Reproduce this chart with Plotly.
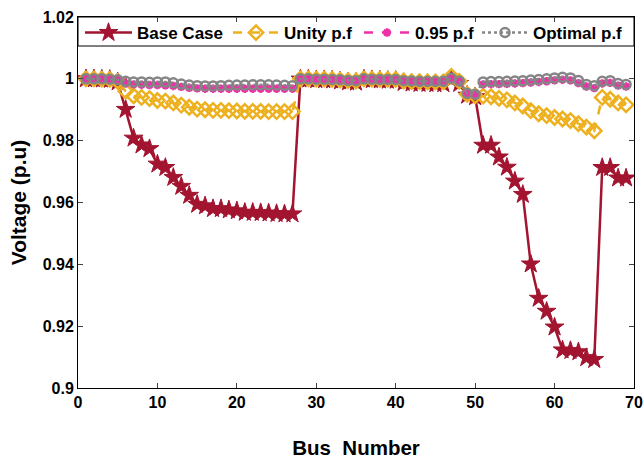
import plotly.graph_objects as go

bus = list(range(1, 70))

base_case = [1.0000, 1.0000, 0.9999, 0.9998, 0.9990, 0.9901, 0.9808, 0.9786, 0.9774, 0.9724,
             0.9713, 0.9681, 0.9652, 0.9623, 0.9594, 0.9589, 0.9580, 0.9580, 0.9576, 0.9573,
             0.9568, 0.9568, 0.9567, 0.9566, 0.9564, 0.9563, 0.9563, 0.9999, 0.9999, 0.9997,
             0.9997, 0.9996, 0.9993, 0.9990, 0.9989, 0.9999, 0.9997, 0.9996, 0.9995, 0.9995,
             0.9988, 0.9986, 0.9985, 0.9985, 0.9984, 0.9984, 0.9998, 0.9985, 0.9947, 0.9942,
             0.9785, 0.9785, 0.9747, 0.9714, 0.9669, 0.9626, 0.9401, 0.9290, 0.9248, 0.9197,
             0.9123, 0.9121, 0.9117, 0.9098, 0.9092, 0.9713, 0.9713, 0.9679, 0.9679]

unity_pf = [1.0000, 1.0000, 0.9999, 0.9998, 0.9992, 0.9960, 0.9945, 0.9940, 0.9936, 0.9930,
            0.9928, 0.9922, 0.9915, 0.9908, 0.9902, 0.9900, 0.9898, 0.9898, 0.9897, 0.9896,
            0.9895, 0.9895, 0.9895, 0.9894, 0.9894, 0.9894, 0.9894, 1.0000, 1.0000, 0.9999,
            0.9999, 0.9998, 0.9996, 0.9994, 0.9993, 1.0000, 0.9999, 0.9998, 0.9998, 0.9998,
            0.9993, 0.9991, 0.9991, 0.9990, 0.9990, 0.9990, 1.0008, 0.9992, 0.9950, 0.9945,
            0.9944, 0.9942, 0.9937, 0.9932, 0.9922, 0.9912, 0.9897, 0.9887, 0.9881, 0.9875,
            0.9870, 0.9865, 0.9855, 0.9844, 0.9832, 0.9940, 0.9934, 0.9922, 0.9916]

pf_095 = [1.0000, 1.0000, 0.9999, 0.9998, 0.9995, 0.9985, 0.9982, 0.9981, 0.9980, 0.9980,
          0.9979, 0.9977, 0.9974, 0.9971, 0.9969, 0.9968, 0.9968, 0.9968, 0.9968, 0.9968,
          0.9968, 0.9968, 0.9968, 0.9968, 0.9968, 0.9968, 0.9968, 0.9998, 0.9998, 0.9997,
          0.9997, 0.9996, 0.9995, 0.9993, 0.9992, 0.9998, 0.9997, 0.9996, 0.9996, 0.9996,
          0.9992, 0.9991, 0.9990, 0.9990, 0.9990, 0.9990, 1.0000, 0.9991, 0.9950, 0.9946,
          0.9982, 0.9983, 0.9983, 0.9984, 0.9985, 0.9986, 0.9988, 0.9990, 0.9992, 0.9995,
          0.9997, 0.9995, 0.9986, 0.9975, 0.9970, 0.9985, 0.9987, 0.9978, 0.9975]

optimal_pf = [1.0000, 1.0000, 1.0000, 0.9999, 0.9997, 0.9992, 0.9990, 0.9990, 0.9989, 0.9990,
              0.9990, 0.9987, 0.9983, 0.9980, 0.9978, 0.9977, 0.9977, 0.9978, 0.9979, 0.9980,
              0.9980, 0.9981, 0.9981, 0.9981, 0.9980, 0.9979, 0.9978, 1.0000, 1.0000, 0.9999,
              0.9999, 0.9998, 0.9997, 0.9995, 0.9994, 1.0000, 0.9999, 0.9998, 0.9998, 0.9998,
              0.9994, 0.9993, 0.9992, 0.9992, 0.9992, 0.9992, 1.0002, 0.9993, 0.9953, 0.9950,
              0.9990, 0.9991, 0.9991, 0.9992, 0.9993, 0.9994, 0.9996, 0.9998, 1.0000, 1.0003,
              1.0005, 1.0003, 0.9995, 0.9982, 0.9978, 0.9992, 0.9994, 0.9985, 0.9982]

x_ticks = [0, 10, 20, 30, 40, 50, 60, 70]
y_ticks = [0.9, 0.92, 0.94, 0.96, 0.98, 1.0, 1.02]
y_tick_labels = ["0.9", "0.92", "0.94", "0.96", "0.98", "1", "1.02"]

RED = "#A2142F"
YEL = "#EDB120"
PINK = "#EE30A8"
GREY = "#858585"
FONT = "Liberation Sans, Arial"

fig = go.Figure()
fig.add_trace(go.Scatter(x=bus, y=base_case, name="Base Case", mode="lines+markers", legend="legend",
                         line=dict(color=RED, width=2.5),
                         marker=dict(symbol="star", size=14, color=RED, line=dict(color=RED, width=1))))
fig.add_trace(go.Scatter(x=bus, y=unity_pf, name="Unity p.f", mode="lines+markers", legend="legend2",
                         line=dict(color=YEL, width=2.5, dash="dash"),
                         marker=dict(symbol="diamond-open", size=11, color=YEL, line=dict(color=YEL, width=2.5))))
fig.add_trace(go.Scatter(x=bus, y=pf_095, name="0.95 p.f", mode="lines+markers", legend="legend3",
                         line=dict(color=PINK, width=2.5, dash="dash"),
                         marker=dict(symbol="asterisk-open", size=7, color=PINK, line=dict(color=PINK, width=2.5))))
fig.add_trace(go.Scatter(x=bus, y=optimal_pf, name="Optimal p.f", mode="lines+markers", legend="legend4",
                         line=dict(color=GREY, width=2.5, dash="dot"),
                         marker=dict(symbol="circle-open", size=9, color=GREY, line=dict(color=GREY, width=2.5))))

L, R, T, B = 78, 10, 17, 71
W, H = 644, 459
pw = W - L - R
ph = H - T - B


def leg(px, iw):
    return dict(orientation="h", x=(px - L) / pw, y=1 - (33 - T) / ph, xanchor="left", yanchor="middle",
                bgcolor="rgba(0,0,0,0)", borderwidth=0, itemwidth=iw,
                font=dict(family=FONT, size=17, color="black", weight="bold"))


fig.update_layout(
    width=W, height=H,
    margin=dict(l=L, r=R, t=T, b=B),
    plot_bgcolor="white", paper_bgcolor="white",
    font=dict(family=FONT, color="black"),
    showlegend=True,
    legend=leg(80, 47), legend2=leg(228, 46), legend3=leg(359, 46), legend4=leg(477, 46),
    shapes=[dict(type="rect", xref="paper", yref="paper", x0=0, x1=1, y0=1 - (46 - T) / ph, y1=1,
                 line=dict(color="black", width=1), fillcolor="white", layer="below")],
    xaxis=dict(range=[0, 70], tickvals=x_ticks, ticks="inside", ticklen=5, tickwidth=1,
               showline=True, linecolor="black", linewidth=1, mirror="ticks", showgrid=False,
               zeroline=False, automargin=False,
               tickfont=dict(family=FONT, size=16, color="black", weight="bold"),
               title=dict(text="Bus\u00a0 Number", font=dict(family=FONT, size=20.5, weight="bold"),
                          standoff=30)),
    yaxis=dict(range=[0.9, 1.02], tickvals=y_ticks, ticktext=y_tick_labels, ticks="inside", ticklen=5,
               tickwidth=1, showline=True, linecolor="black", linewidth=1, mirror="ticks", showgrid=False,
               zeroline=False, automargin=False,
               tickfont=dict(family=FONT, size=16, color="black", weight="bold"),
               title=dict(text="Voltage (p.u)", font=dict(family=FONT, size=21, weight="bold"),
                          standoff=10)),
)

fig.write_html("out.html")
